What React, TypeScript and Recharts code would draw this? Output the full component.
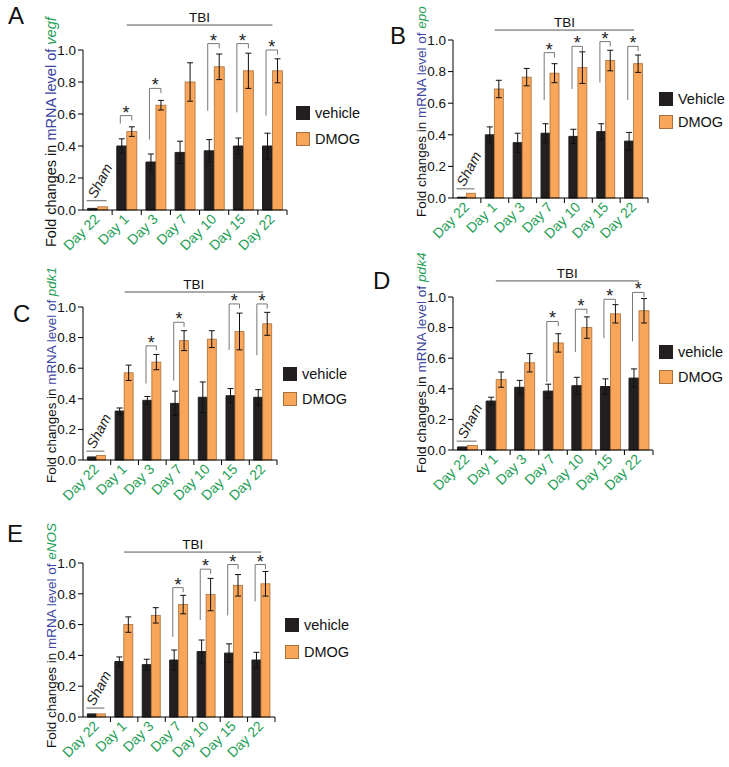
import React from "react";
import { Bar, BarChart, ErrorBar, ReferenceLine, XAxis, YAxis } from "recharts";

const FONT = "'Liberation Sans', Arial, Helvetica, sans-serif";
const GREEN = "#1E9E55";
const BLUE = "#3C46A0";
const BLACK_BAR = "#231F20";
const ORANGE = "#F9A55A";

const categories = ["sham22", "d1", "d3", "d7", "d10", "d15", "d22"];
const dayLabels = ["Day 22", "Day 1", "Day 3", "Day 7", "Day 10", "Day 15", "Day 22"];
const yTicks = [0, 0.2, 0.4, 0.6, 0.8, 1.0];

// vegf
const vegfVehicle = [0.01, 0.4, 0.3, 0.36, 0.37, 0.4, 0.4];
const vegfVehicleErr = [0, 0.045, 0.05, 0.07, 0.07, 0.05, 0.08];
const vegfDmog = [0.02, 0.49, 0.655, 0.8, 0.895, 0.87, 0.87];
const vegfDmogErr = [0, 0.03, 0.03, 0.12, 0.08, 0.11, 0.075];
const vegfSig = [null, [0.54, 0.59], [0.44, 0.76], null, [0.62, 1.04], [0.61, 1.04], [0.59, 1.0]];

// epo
const epoVehicle = [0.005, 0.4, 0.35, 0.41, 0.39, 0.42, 0.36];
const epoVehicleErr = [0, 0.05, 0.06, 0.06, 0.045, 0.05, 0.055];
const epoDmog = [0.03, 0.69, 0.765, 0.79, 0.825, 0.87, 0.85];
const epoDmogErr = [0, 0.055, 0.055, 0.06, 0.1, 0.065, 0.055];
const epoSig = [null, null, null, [0.62, 0.92], [0.69, 0.96], [0.73, 0.99], [0.62, 0.96]];

// pdk1
const pdk1Vehicle = [0.02, 0.32, 0.39, 0.37, 0.41, 0.42, 0.41];
const pdk1VehicleErr = [0, 0.02, 0.025, 0.08, 0.1, 0.047, 0.05];
const pdk1Dmog = [0.03, 0.57, 0.64, 0.78, 0.79, 0.84, 0.89];
const pdk1DmogErr = [0, 0.05, 0.05, 0.065, 0.055, 0.12, 0.075];
const pdk1Sig = [null, null, [0.5, 0.746], [0.52, 0.9], null, [0.72, 1.02], [0.685, 1.02]];

// pdk4
const pdk4Vehicle = [0.02, 0.32, 0.41, 0.385, 0.42, 0.415, 0.47];
const pdk4VehicleErr = [0, 0.025, 0.045, 0.045, 0.055, 0.05, 0.06];
const pdk4Dmog = [0.03, 0.46, 0.57, 0.7, 0.8, 0.89, 0.91];
const pdk4DmogErr = [0, 0.05, 0.06, 0.06, 0.07, 0.06, 0.08];
const pdk4Sig = [null, null, null, [0.445, 0.84], [0.64, 0.92], [0.73, 0.985], [0.71, 1.03]];

// eNOS
const enosVehicle = [0.02, 0.36, 0.34, 0.37, 0.425, 0.415, 0.37];
const enosVehicleErr = [0, 0.03, 0.035, 0.065, 0.075, 0.06, 0.05];
const enosDmog = [0.02, 0.6, 0.66, 0.73, 0.795, 0.855, 0.865];
const enosDmogErr = [0, 0.05, 0.05, 0.06, 0.105, 0.07, 0.08];
const enosSig = [null, null, null, [0.52, 0.84], [0.63, 0.96], [0.66, 0.99], [0.75, 0.99]];

function makeRows(veh: number[], vehErr: number[], dmog: number[], dmogErr: number[], sig: any[]) {
  return categories.map((cat, i) => ({
    cat,
    vehicle: veh[i],
    vehErr: vehErr[i],
    dmog: dmog[i],
    dmogErr: dmogErr[i],
    sig: sig[i],
  }));
}

function DayTick(props: any) {
  const { x, y, payload, index } = props;
  const half = payload && payload.offset ? payload.offset : 14;
  const ax = x + 3;
  const ay = y + 10;
  return (
    <g>
      <line x1={x + half} y1={y} x2={x + half} y2={y + 5} stroke="#000" strokeWidth={1} />
      <text
        x={ax}
        y={ay}
        transform={`rotate(-45, ${ax}, ${ay})`}
        textAnchor="end"
        fontSize={14}
        fontFamily={FONT}
        fill={GREEN}
      >
        {dayLabels[index]}
      </text>
    </g>
  );
}

// DMOG bar plus the annotations (sham line, significance brackets) drawn from the bar's own scale
function DmogShape(props: any) {
  const { x, y, width, height, payload, index } = props;
  const base = y + height;
  const k = payload.dmog > 0 ? height / payload.dmog : 0;
  const py = (v: number) => base - v * k;
  const parts: React.ReactNode[] = [
    <rect key="r" x={x} y={y} width={width} height={height} fill={ORANGE} stroke="#A8703A" strokeWidth={0.8} />,
  ];
  if (index === 0) {
    const ly = py(0.058);
    parts.push(
      <line key="sl" x1={x - width - 1} y1={ly} x2={x + width - 1} y2={ly} stroke="#666" strokeWidth={1} />
    );
    const tx = x - 2;
    const ty = py(0.068);
    parts.push(
      <text
        key="st"
        x={tx}
        y={ty}
        transform={`rotate(-62, ${tx}, ${ty})`}
        fontSize={14}
        fontStyle="italic"
        fontFamily={FONT}
        fill="#222"
      >
        Sham
      </text>
    );
  }
  if (payload.sig) {
    const [lo, hi] = payload.sig;
    const lx = x - width * 0.65;
    const rx = x + width / 2;
    parts.push(
      <path
        key="b"
        d={`M${lx},${py(lo)} V${py(hi)} H${rx} V${py(hi - 0.03)}`}
        fill="none"
        stroke="#777"
        strokeWidth={1}
      />
    );
    parts.push(
      <text key="s" x={(lx + rx) / 2} y={py(hi) + 3} textAnchor="middle" fontSize={18} fontFamily={FONT} fill="#222">
        *
      </text>
    );
  }
  return <g>{parts}</g>;
}

type PanelCfg = {
  letter: string;
  letterAt: [number, number];
  gene: string;
  vehicleName: string;
  rows: any[];
  left: number;
  top: number;
  plot: { l: number; t: number; r: number; b: number };
  tbiY: number;
  labelFont: number;
  labelDrop: number;
  legendAt: [number, number];
  legendGap: number;
};

const YW = 30;
const XH = 50;

function Panel({ cfg }: { cfg: PanelCfg }) {
  const { plot, left, top } = cfg;
  const w = plot.r - left + 6;
  const h = plot.b + XH - top + 2;
  const margin = {
    top: plot.t - top,
    left: plot.l - left - YW,
    right: left + w - plot.r,
    bottom: top + h - plot.b - XH,
  };
  const yLabel = (p: any) => {
    const vb = p.viewBox || {};
    const lx = vb.x + vb.width - 27;
    const ly = vb.y + vb.height + cfg.labelDrop;
    return (
      <text
        x={lx}
        y={ly}
        transform={`rotate(-90, ${lx}, ${ly})`}
        fontSize={cfg.labelFont}
        fontFamily={FONT}
        textAnchor="start"
      >
        <tspan fill="#111">Fold changes in </tspan>
        <tspan fill={BLUE}>mRNA level of </tspan>
        <tspan fill={GREEN} fontStyle="italic">
          {cfg.gene}
        </tspan>
      </text>
    );
  };
  const legendRow = (color: string, border: string, text: string, dy: number) => (
    <div
      style={{
        position: "absolute",
        left: cfg.legendAt[0],
        top: cfg.legendAt[1] + dy,
        display: "flex",
        alignItems: "center",
        height: 13,
        fontFamily: FONT,
        fontSize: 14.5,
        color: "#111",
        whiteSpace: "nowrap",
      }}
    >
      <span
        style={{
          display: "inline-block",
          width: 12,
          height: 12,
          background: color,
          border: `0.8px solid ${border}`,
          marginRight: 5,
        }}
      />
      {text}
    </div>
  );
  return (
    <>
      <div style={{ position: "absolute", left, top }}>
        <BarChart width={w} height={h} data={cfg.rows} margin={margin} barCategoryGap="16%" barGap={0}>
          <XAxis
            dataKey="cat"
            height={XH}
            interval={0}
            tickLine={false}
            tickSize={0}
            tickMargin={0}
            axisLine={{ stroke: "#000", strokeWidth: 1 }}
            tick={<DayTick />}
          />
          <YAxis
            type="number"
            domain={[0, 1]}
            ticks={yTicks}
            width={YW}
            tickSize={5}
            tickMargin={2}
            tickFormatter={(v: number) => v.toFixed(1)}
            tick={{ fontSize: 13.5, fill: "#111", fontFamily: FONT }}
            axisLine={{ stroke: "#000", strokeWidth: 1 }}
            tickLine={{ stroke: "#000", strokeWidth: 1 }}
            label={{ content: yLabel }}
          />
          <ReferenceLine
            segment={[
              { x: "d1", y: cfg.tbiY },
              { x: "d22", y: cfg.tbiY },
            ]}
            ifOverflow="visible"
            stroke="#555"
            strokeWidth={1}
            label={{ value: "TBI", position: "top", offset: 3, fontSize: 13.5, fill: "#111", fontFamily: FONT }}
          />
          <Bar dataKey="vehicle" fill={BLACK_BAR} stroke={BLACK_BAR} isAnimationActive={false}>
            <ErrorBar dataKey="vehErr" width={3} stroke="#111" strokeWidth={1} />
          </Bar>
          <Bar dataKey="dmog" fill={ORANGE} shape={DmogShape} isAnimationActive={false}>
            <ErrorBar dataKey="dmogErr" width={3} stroke="#111" strokeWidth={1} />
          </Bar>
        </BarChart>
      </div>
      <div
        style={{
          position: "absolute",
          left: cfg.letterAt[0],
          top: cfg.letterAt[1] - 3,
          fontFamily: FONT,
          fontSize: 24,
          lineHeight: 1,
          color: "#111",
        }}
      >
        {cfg.letter}
      </div>
      {legendRow(BLACK_BAR, BLACK_BAR, cfg.vehicleName, 0)}
      {legendRow(ORANGE, "#A8703A", "DMOG", cfg.legendGap)}
    </>
  );
}

const panels: PanelCfg[] = [
  {
    letter: "A",
    letterAt: [8, 7],
    gene: "vegf",
    vehicleName: "vehicle",
    rows: makeRows(vegfVehicle, vegfVehicleErr, vegfDmog, vegfDmogErr, vegfSig),
    left: 0,
    top: 0,
    plot: { l: 83, t: 50, r: 287, b: 210 },
    tbiY: 1.156,
    labelFont: 14.5,
    labelDrop: 37,
    legendAt: [296, 106],
    legendGap: 26,
  },
  {
    letter: "B",
    letterAt: [390, 27],
    gene: "epo",
    vehicleName: "Vehicle",
    rows: makeRows(epoVehicle, epoVehicleErr, epoDmog, epoDmogErr, epoSig),
    left: 370,
    top: 0,
    plot: { l: 453, t: 40, r: 648, b: 198 },
    tbiY: 1.063,
    labelFont: 13.5,
    labelDrop: 19,
    legendAt: [659, 92],
    legendGap: 23,
  },
  {
    letter: "C",
    letterAt: [13, 305],
    gene: "pdk1",
    vehicleName: "vehicle",
    rows: makeRows(pdk1Vehicle, pdk1VehicleErr, pdk1Dmog, pdk1DmogErr, pdk1Sig),
    left: 0,
    top: 250,
    plot: { l: 83, t: 307, r: 277, b: 460 },
    tbiY: 1.098,
    labelFont: 13.4,
    labelDrop: 23,
    legendAt: [283, 367],
    legendGap: 25,
  },
  {
    letter: "D",
    letterAt: [373, 272],
    gene: "pdk4",
    vehicleName: "vehicle",
    rows: makeRows(pdk4Vehicle, pdk4VehicleErr, pdk4Dmog, pdk4DmogErr, pdk4Sig),
    left: 370,
    top: 250,
    plot: { l: 453, t: 297, r: 653, b: 450 },
    tbiY: 1.105,
    labelFont: 13.7,
    labelDrop: 23,
    legendAt: [659, 345],
    legendGap: 25,
  },
  {
    letter: "E",
    letterAt: [7, 525],
    gene: "eNOS",
    vehicleName: "vehicle",
    rows: makeRows(enosVehicle, enosVehicleErr, enosDmog, enosDmogErr, enosSig),
    left: 0,
    top: 510,
    plot: { l: 83, t: 563, r: 275, b: 717 },
    tbiY: 1.071,
    labelFont: 13.5,
    labelDrop: 31,
    legendAt: [285, 618],
    legendGap: 27,
  },
];

export default function App() {
  return (
    <div style={{ position: "relative", width: 729, height: 767, background: "#fff", overflow: "hidden" }}>
      <style>{`body{margin:0}`}</style>
      {panels.map((p) => (
        <Panel key={p.letter} cfg={p} />
      ))}
    </div>
  );
}
